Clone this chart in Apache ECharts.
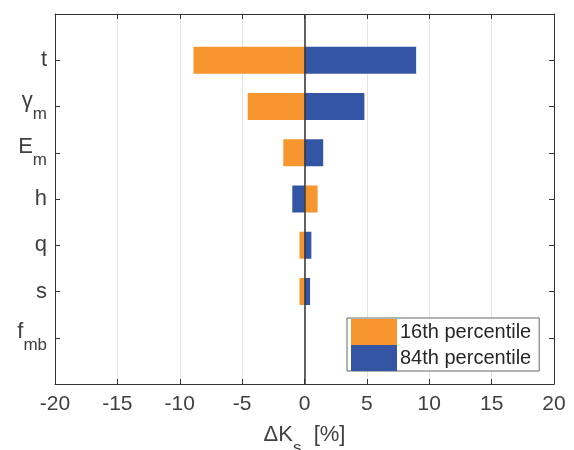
<!DOCTYPE html>
<html>
<head>
<meta charset="utf-8">
<script src="https://cdn.jsdelivr.net/npm/echarts@6/dist/echarts.min.js"></script>
<style>html,body{margin:0;padding:0;background:#fff}#c{width:574px;height:450px}</style>
</head>
<body>
<div id="c"></div>
<script>
// Parameters (top to bottom); "_" marks a subscript
const categories = ['t', 'γ_m', 'E_m', 'h', 'q', 's', 'f_mb'];
const p16 = [-8.9, -4.55, -1.7, 1.05, -0.4, -0.4, 0];
const p84 = [8.95, 4.8, 1.5, -0.98, 0.55, 0.45, 0];
const seriesNames = ['16th percentile', '84th percentile'];
const xTicks = [-20, -15, -10, -5, 0, 5, 10, 15, 20];
const xTitle = 'ΔK_s';

const axisCol = '#333333';
const textCol = '#404040';
const font = 'Liberation Sans, Arial, sans-serif';

// pad with empty slots so category spacing matches (boundaryGap false)
const yCats = [''].concat(categories).concat(['']);
const pad = arr => [null].concat(arr).concat([null]);

function richLabel(s) {
  if (!s) return '';
  const i = s.indexOf('_');
  if (i < 0) return '{m|' + s + '}';
  return '{m|' + s.slice(0, i) + '}{s|' + s.slice(i + 1) + '}{z|\u200b}';
}
const rich = {
  m: {fontSize: 22, lineHeight: 22, verticalAlign: 'top', color: textCol, fontFamily: font},
  s: {fontSize: 17, lineHeight: 17, verticalAlign: 'bottom', color: textCol, fontFamily: font},
  z: {fontSize: 1, lineHeight: 33}
};
const tickShow = (idx) => idx > 0 && idx < yCats.length - 1;

const chart = echarts.init(document.getElementById('c'), null, {renderer: 'canvas'});
chart.setOption({
  animation: false,
  backgroundColor: '#ffffff',
  grid: {left: 55, right: 20, top: 14, bottom: 66, containLabel: false, outerBoundsMode: 'none'},
  legend: {
    data: seriesNames,
    orient: 'vertical',
    left: 347, top: 318,
    itemWidth: 46, itemHeight: 26, itemGap: 0,
    icon: 'rect',
    padding: [1, 8, 0, 4],
    backgroundColor: '#ffffff',
    borderColor: '#666666', borderWidth: 1,
    textStyle: {fontSize: 20, color: '#262626', fontFamily: font, padding: [0, 0, 0, -2]}
  },
  xAxis: [{
    type: 'value', min: xTicks[0], max: xTicks[xTicks.length - 1], interval: xTicks[1] - xTicks[0],
    position: 'bottom',
    axisLine: {show: true, onZero: false, lineStyle: {color: axisCol, width: 1}},
    axisTick: {show: true, inside: true, length: 5, lineStyle: {color: axisCol}},
    axisLabel: {show: true, margin: 10, fontSize: 21, color: textCol, fontFamily: font},
    splitLine: {show: true, lineStyle: {color: '#e3e3e3', width: 1}},
    name: '{m|ΔK}{s|s}{m|  [%]}{z|\u200b}', nameLocation: 'middle', nameGap: 40,
    nameTextStyle: {rich: rich},
  }, {
    type: 'value', min: xTicks[0], max: xTicks[xTicks.length - 1], interval: xTicks[1] - xTicks[0],
    position: 'top',
    axisLine: {show: true, onZero: false, lineStyle: {color: axisCol, width: 1}},
    axisTick: {show: true, inside: true, length: 5, lineStyle: {color: axisCol}},
    axisLabel: {show: false},
    splitLine: {show: false}
  }],
  yAxis: [{
    type: 'category', data: yCats, inverse: true, boundaryGap: false,
    position: 'left',
    axisLine: {show: true, onZero: false, lineStyle: {color: axisCol, width: 1}},
    axisTick: {show: true, inside: true, length: 5, interval: tickShow, lineStyle: {color: axisCol}},
    axisLabel: {show: true, interval: 0, margin: 8, formatter: v => richLabel(v), rich: rich},
    splitLine: {show: false}
  }, {
    type: 'category', data: yCats, inverse: true, boundaryGap: false,
    position: 'right',
    axisLine: {show: true, onZero: false, lineStyle: {color: axisCol, width: 1}},
    axisTick: {show: true, inside: true, length: 5, interval: tickShow, lineStyle: {color: axisCol}},
    axisLabel: {show: false},
    splitLine: {show: false}
  }],
  series: [{
    name: seriesNames[0], type: 'bar', data: pad(p16),
    xAxisIndex: 0, yAxisIndex: 0,
    barWidth: 27, barGap: '-100%',
    itemStyle: {color: '#F7962F'}
  }, {
    name: seriesNames[1], type: 'bar', data: pad(p84),
    xAxisIndex: 0, yAxisIndex: 0,
    barWidth: 27, barGap: '-100%',
    itemStyle: {color: '#3454A4'},
    markLine: {
      silent: true, symbol: ['none', 'none'],
      label: {show: false},
      lineStyle: {color: axisCol, width: 1.5, type: 'solid'},
      data: [{xAxis: 0}]
    }
  }]
});
</script>
</body>
</html>
